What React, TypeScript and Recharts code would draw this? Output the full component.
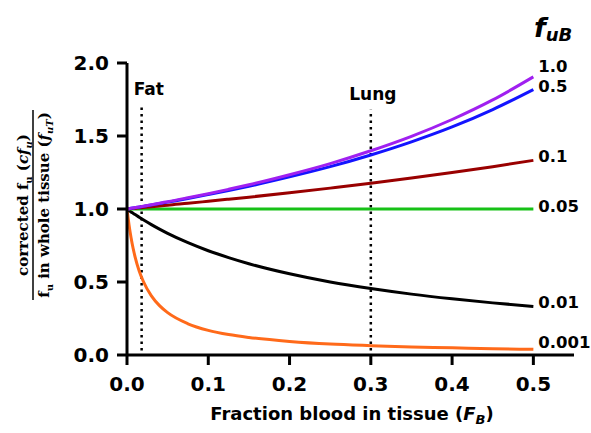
import React from 'react';
import { LineChart, Line, XAxis, YAxis, ReferenceLine, Label } from 'recharts';

const xValues = [0, 0.0025, 0.005, 0.0075, 0.01, 0.015, 0.02, 0.03, 0.04, 0.05, 0.075, 0.1, 0.125, 0.15, 0.2, 0.25, 0.3, 0.35, 0.4, 0.45, 0.5];
const fuB_1 = [1, 1.002, 1.005, 1.007, 1.010, 1.014, 1.019, 1.029, 1.040, 1.050, 1.077, 1.105, 1.135, 1.166, 1.235, 1.311, 1.399, 1.498, 1.613, 1.747, 1.905];
const fuB_05 = [1, 1.002, 1.005, 1.007, 1.009, 1.014, 1.018, 1.028, 1.037, 1.047, 1.072, 1.099, 1.127, 1.156, 1.220, 1.290, 1.370, 1.460, 1.562, 1.681, 1.818];
const fuB_01 = [1, 1.001, 1.003, 1.004, 1.005, 1.008, 1.010, 1.015, 1.020, 1.026, 1.039, 1.053, 1.067, 1.081, 1.111, 1.143, 1.176, 1.212, 1.250, 1.290, 1.333];
const fuB_005 = [1, 1, 1, 1, 1, 1, 1, 1, 1, 1, 1, 1, 1, 1, 1, 1, 1, 1, 1, 1, 1];
const fuB_001 = [1, 0.990, 0.980, 0.971, 0.962, 0.943, 0.926, 0.893, 0.862, 0.833, 0.769, 0.714, 0.667, 0.625, 0.556, 0.500, 0.455, 0.417, 0.385, 0.357, 0.333];
const fuB_0001 = [1, 0.891, 0.803, 0.731, 0.671, 0.576, 0.505, 0.405, 0.338, 0.290, 0.214, 0.169, 0.140, 0.120, 0.093, 0.075, 0.064, 0.055, 0.049, 0.043, 0.039];

const seriesKeys = ['s0001', 's001', 's005', 's01', 's05', 's1'];
const seriesLabels = ['0.001', '0.01', '0.05', '0.1', '0.5', '1.0'];
const seriesValues = [fuB_0001, fuB_001, fuB_005, fuB_01, fuB_05, fuB_1];
const seriesColors = ['#FF6A1A', '#000000', '#17C117', '#990000', '#1414FF', '#A020F0'];
const labelDy = [-6, -3, -2, -3, -2, -9];

const xTicks = [0, 0.1, 0.2, 0.3, 0.4, 0.5];
const yTicks = [0, 0.5, 1.0, 1.5, 2.0];

const refLines = [
  { name: 'Fat', x: 0.018, y1: 0.03, y2: 1.71, dx: -8, anchor: 'start' },
  { name: 'Lung', x: 0.3, y1: 0.03, y2: 1.68, dx: 2, anchor: 'middle' },
];

const data = xValues.map((x, i) => {
  const row: any = { x };
  seriesKeys.forEach((k, j) => { row[k] = seriesValues[j][i]; });
  return row;
});

const FONT = '"DejaVu Sans", Arial, sans-serif';
const SERIF = '"DejaVu Serif", "Liberation Serif", serif';

const YLabel = () => (
  <g>
    <g transform="translate(33,205) rotate(-90)" fontFamily={SERIF} fontWeight="bold" fontSize={15} fill="#000">
      <text x={0} y={-5} textAnchor="middle">
        corrected f<tspan fontSize={10} dy={4}>u</tspan><tspan dy={-4}> (</tspan><tspan fontStyle="italic">cf</tspan><tspan fontStyle="italic" fontSize={10} dy={4}>u</tspan><tspan dy={-4}>)</tspan>
      </text>
      <line x1={-95} x2={95} y1={0} y2={0} stroke="#000" strokeWidth={1.5} />
      <text x={0} y={16} textAnchor="middle">
        f<tspan fontSize={10} dy={4}>u</tspan><tspan dy={-4}> in whole tissue (</tspan><tspan fontStyle="italic">f</tspan><tspan fontStyle="italic" fontSize={10} dy={4}>uT</tspan><tspan dy={-4}>)</tspan>
      </text>
    </g>
    <text x={534} y={37} fontFamily={FONT} fontWeight="bold" fontStyle="italic" fill="#000">
      <tspan fontSize={27}>f</tspan><tspan fontSize={18} dy={4}>uB</tspan>
    </text>
  </g>
);

const XLabel = () => (
  <text x={352} y={420} textAnchor="middle" fontFamily={FONT} fontWeight="bold" fontSize={18} fill="#000">
    Fraction blood in tissue (<tspan fontStyle="italic">F</tspan><tspan fontStyle="italic" fontSize={13} dy={4}>B</tspan><tspan dy={-4}>)</tspan>
  </text>
);

const makeEndLabel = (j: number) => (props: any) => {
  const { x, y, index } = props;
  if (index !== xValues.length - 1) return <g />;
  return (
    <text x={x + 5} y={y + labelDy[j]} dominantBaseline="middle" fontFamily={FONT} fontWeight="bold" fontSize={16.5} fill="#000">
      {seriesLabels[j]}
    </text>
  );
};

export default function App() {
  return (
    <div style={{ position: 'absolute', left: 0, top: 0, width: 591, height: 433, background: '#fff' }}>
      <LineChart width={591} height={433} data={data} margin={{ top: 63, right: 17, bottom: 38, left: 67 }}>
        <XAxis
          dataKey="x"
          type="number"
          domain={[0, 0.55]}
          ticks={xTicks}
          tickFormatter={(v: number) => v.toFixed(1)}
          height={40}
          stroke="#000"
          strokeWidth={3}
          tickSize={10}
          tickMargin={12}
          tick={{ fill: '#000', fontSize: 20, fontWeight: 'bold', fontFamily: FONT }}
          allowDataOverflow
        >
          <Label content={<XLabel />} />
        </XAxis>
        <YAxis
          type="number"
          domain={[0, 2]}
          ticks={yTicks}
          tickFormatter={(v: number) => v.toFixed(1)}
          width={60}
          stroke="#000"
          strokeWidth={3}
          tickSize={10}
          tickMargin={8}
          tick={{ fill: '#000', fontSize: 20, fontWeight: 'bold', fontFamily: FONT }}
        >
          <Label content={<YLabel />} />
        </YAxis>
        {refLines.map((r) => (
          <ReferenceLine
            key={r.name}
            segment={[{ x: r.x, y: r.y1 }, { x: r.x, y: r.y2 }]}
            stroke="#000"
            strokeWidth={2.5}
            strokeDasharray="2.5 4"
            label={(p: any) => {
              const vb = p.viewBox || {};
              return (
                <text x={vb.x + r.dx} y={vb.y - 10} textAnchor={r.anchor} fontFamily={FONT} fontWeight="bold" fontSize={17} fill="#000">
                  {r.name}
                </text>
              );
            }}
          />
        ))}
        {seriesKeys.map((k, j) => (
          <Line
            key={k}
            dataKey={k}
            type="monotone"
            stroke={seriesColors[j]}
            strokeWidth={3}
            dot={false}
            isAnimationActive={false}
            label={makeEndLabel(j)}
          />
        ))}
      </LineChart>
    </div>
  );
}
